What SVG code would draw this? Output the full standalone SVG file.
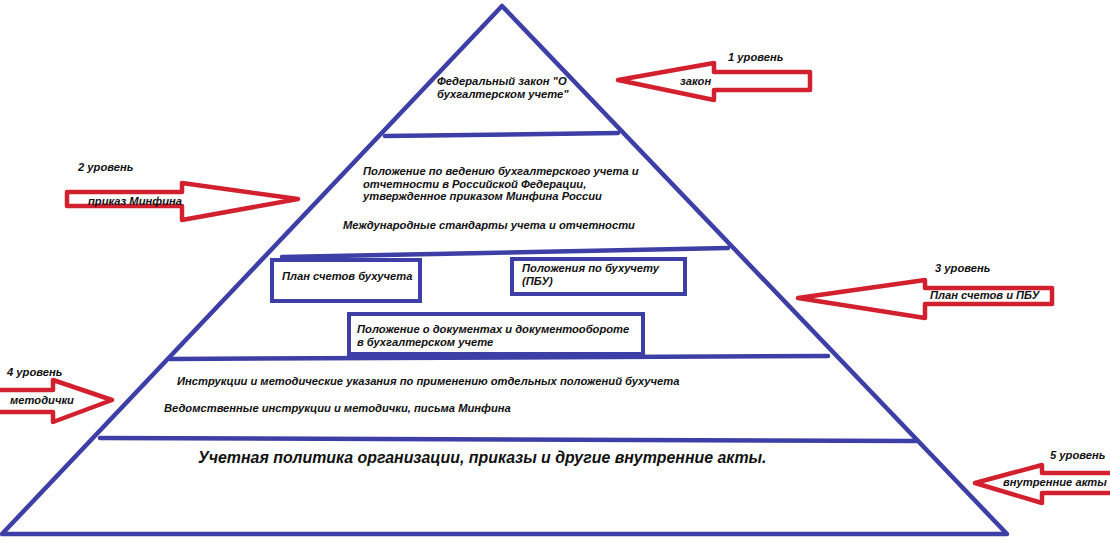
<svg xmlns="http://www.w3.org/2000/svg" width="1110" height="549" viewBox="0 0 1110 549">
<style>
.b{fill:none;stroke:#3d3fa6;stroke-width:4.5;stroke-linecap:round;stroke-linejoin:round}
.bx{fill:#fff;stroke:#3d3fa6;stroke-width:4}
.ar{fill:#fff;stroke:#d3202e;stroke-width:4.5;stroke-linejoin:round}
text{font-family:"Liberation Sans",Arial,sans-serif;font-style:italic;font-weight:bold;font-size:11.2px;fill:#111}
.big{font-size:15.9px}
</style>
<rect width="1110" height="549" fill="#fff"/>
<g id="pyramid">
<path class="b" d="M502,6 L2,534 L1007,534 Z"/>
<path class="b" d="M385,136 L618,133"/>
<path class="b" d="M282,257 L728,248"/>
<path class="b" d="M170,359 L828,356"/>
<path class="b" d="M100,438 L916,441"/>
</g>
<g id="level1">
<text x="437" y="85">Федеральный закон "О</text>
<text x="437" y="98">бухгалтерском учете"</text>
</g>
<g id="level2">
<text x="363" y="175">Положение по ведению бухгалтерского учета и</text>
<text x="363" y="188">отчетности в Российской Федерации,</text>
<text x="363" y="200">утвержденное приказом Минфина России</text>
<text x="343" y="229">Международные стандарты учета и отчетности</text>
</g>
<g id="box-plan">
<rect class="bx" x="272" y="260" width="148" height="41"/>
<text x="282" y="280">План счетов бухучета</text>
</g>
<g id="box-pbu">
<rect class="bx" x="512" y="259" width="173" height="35"/>
<text x="522" y="272">Положения по бухучету</text>
<text x="522" y="285">(ПБУ)</text>
</g>
<g id="box-docs">
<rect class="bx" x="349" y="314" width="294" height="40"/>
<text x="357" y="333">Положение о документах и документообороте</text>
<text x="357" y="346">в бухгалтерском учете</text>
</g>
<g id="level4">
<text x="177" y="385">Инструкции и методические указания по применению отдельных положений бухучета</text>
<text x="164" y="412">Ведомственные инструкции и методички, письма Минфина</text>
</g>
<g id="level5">
<text class="big" x="198" y="463">Учетная политика организации, приказы и другие внутренние акты.</text>
</g>
<g id="connectors">
<path class="ar" d="M618,80 L714,63 L714,72 L810,72 L810,90 L714,90 L714,100 Z"/>
<path class="ar" d="M298,199 L182,183 L182,192 L67,192 L67,206 L182,206 L182,220 Z"/>
<path class="ar" d="M798,298 L925,280 L925,288 L1052,288 L1052,304 L925,304 L925,318 Z"/>
<path class="ar" d="M112,400 L53,380 L53,390 L-5,390 L-5,412 L53,412 L53,422 Z"/>
<path class="ar" d="M975,483 L1042,465 L1042,473 L1115,473 L1115,493 L1042,493 L1042,503 Z"/>
</g>
<g id="label1">
<text x="728" y="61">1 уровень</text>
<text x="680" y="85">закон</text>
</g>
<g id="label2">
<text x="78" y="171">2 уровень</text>
<text x="88" y="205">приказ Минфина</text>
</g>
<g id="label3">
<text x="935" y="272">3 уровень</text>
<text x="930" y="299">План счетов и ПБУ</text>
</g>
<g id="label4">
<text x="7" y="376">4 уровень</text>
<text x="10" y="404">методички</text>
</g>
<g id="label5">
<text x="1050" y="459">5 уровень</text>
<text x="1003" y="486">внутренние акты</text>
</g>
</svg>
